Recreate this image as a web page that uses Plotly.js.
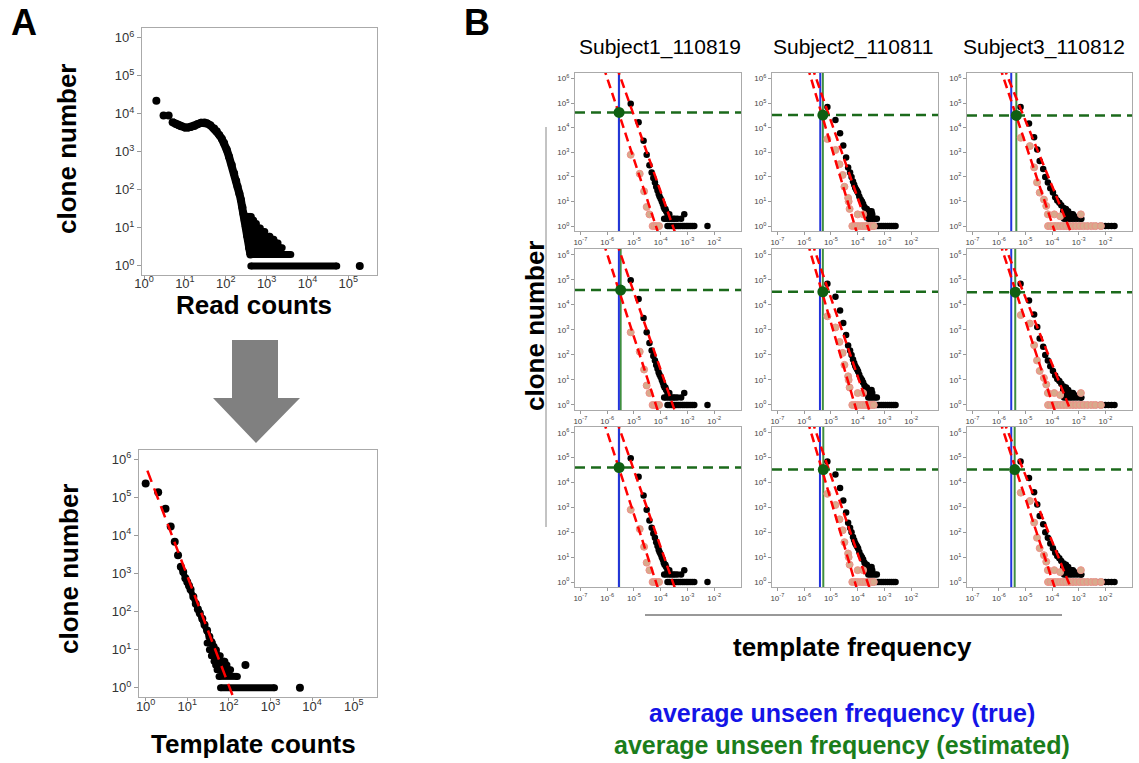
<!DOCTYPE html>
<html><head><meta charset="utf-8">
<script src="https://cdn.plot.ly/plotly-3.0.1.min.js"></script>
<style>html,body{margin:0;padding:0;background:#fff}#chart{width:1139px;height:763px}</style>
</head><body><div id="chart"></div>
<script>
// ---------- Panel A (top): read counts ----------
const readX = [2, 3, 4, 5, 6, 7, 8, 10, 12, 14, 17, 20, 25, 30, 35, 42, 52, 60, 69, 80, 91, 105, 120, 140, 160, 180, 194, 215, 234, 255, 270, 290, 309, 340, 372, 400];
const readY = [22000, 9000, 9000, 6000, 5400, 5000, 4700, 4400, 4400, 4500, 4800, 5300, 5800, 5900, 5600, 5000, 4150, 3500, 2800, 2200, 1700, 1150, 750, 450, 275, 170, 122, 80, 55, 35, 24, 16, 11, 6, 3, 2];
// dense rows of clones (count range at a given clone number)
const readRowX = [410, 52000, null, 410, 3900, null, 380, 2400, null, 360, 1900, null, 340, 1500, null, 330, 1200, null, 320, 900, null, 310, 700, null, 300, 560, null, 290, 480, null, 280, 420];
const readRowY = [1, 1, null, 2, 2, null, 3, 3, null, 4, 4, null, 5, 5, null, 6, 6, null, 8, 8, null, 10, 10, null, 13, 13, null, 16, 16, null, 20, 20];
const readOutX = [190000];
const readOutY = [1];

// ---------- Panel A (bottom): template counts ----------
const tmplX = [1, 2, 3, 4, 5, 6, 7, 8, 9, 10, 11, 12, 14, 16, 18, 20, 23, 26, 30, 34, 38, 43, 48, 55, 62, 70];
const tmplY = [230000, 135000, 50000, 17000, 6800, 3000, 1500, 1100, 750, 600, 480, 380, 245, 160, 115, 90, 65, 45, 32, 22, 16, 12, 9, 6, 4, 3];
const tmplRowX = [63, 1250, null, 58, 160, null, 52, 110, null, 48, 90, null, 44, 80, null, 38, 62, null, 34, 50, null, 30, 40];
const tmplRowY = [1, 1, null, 2, 2, null, 3, 3, null, 4, 4, null, 5, 5, null, 7, 7, null, 10, 10, null, 15, 15];
const tmplOutX = [250, 5100];
const tmplOutY = [4, 1];
const tmplFitX = [1.1, 125];
const tmplFitY = [500000, 0.6];

// ---------- Panel B ----------
const subjects = ["Subject1_110819", "Subject2_110811", "Subject3_110812"];
const blackX = [
  [7.6e-6, 1.5e-5, 2.3e-5, 3.0e-5, 3.8e-5, 4.6e-5, 5.3e-5, 6.1e-5, 6.8e-5, 7.6e-5, 8.4e-5, 9.1e-5, 1.0e-4, 1.1e-4, 1.2e-4, 1.3e-4, 1.4e-4, 1.5e-4, 1.6e-4, 1.8e-4, 2.1e-4, 7.6e-4,
   1.35e-4, 1.6e-4, 2.0e-4, 2.4e-4, 2.9e-4, 3.4e-4, 4.2e-4, 5.8e-4,
   1.8e-4, 2.1e-4, 2.5e-4, 2.9e-4, 3.4e-4, 4.0e-4, 4.7e-4, 5.5e-4, 6.5e-4, 7.6e-4, 9.0e-4, 1.05e-3, 1.25e-3, 1.5e-3, 1.8e-3, 5.6e-3],
  [7.4e-6, 1.48e-5, 2.2e-5, 2.9e-5, 3.7e-5, 4.4e-5, 5.2e-5, 5.9e-5, 6.7e-5, 7.4e-5, 8.1e-5, 8.9e-5, 9.6e-5, 1.04e-4, 1.15e-4, 1.3e-4, 1.45e-4, 1.6e-4, 1.8e-4, 2.0e-4, 2.2e-4, 2.5e-4, 2.8e-4, 3.1e-4, 3.5e-4, 2.3e-4, 2.6e-4, 3.3e-4,
   2.5e-4, 3.0e-4, 3.6e-4, 4.4e-4, 5.2e-4,
   2.5e-4, 3.0e-4, 3.6e-4, 4.3e-4, 5.2e-4, 6.2e-4, 7.5e-4, 9.0e-4, 1.08e-3, 1.3e-3, 1.55e-3, 1.85e-3, 2.2e-3, 2.6e-3],
  [6.5e-6, 1.35e-5, 2.1e-5, 2.75e-5, 3.4e-5, 4.6e-5, 5.5e-5, 6.9e-5, 8.5e-5, 1.07e-4, 1.3e-4, 1.55e-4, 1.86e-4, 2.2e-4, 2.7e-4, 3.3e-4, 4.0e-4, 5.0e-4, 6.0e-4, 6.8e-4, 1.2e-3,
   2.8e-4, 3.5e-4, 4.5e-4, 5.5e-4, 7.0e-4, 9.0e-4, 1.25e-3, 3.0e-4, 3.8e-4, 4.4e-4, 5.2e-4, 2.6e-4, 3.2e-4,
   1.3e-4, 1.7e-4, 2.2e-4, 2.8e-4, 3.6e-4, 4.6e-4, 6.0e-4, 7.7e-4, 1.0e-3, 1.3e-3, 1.7e-3, 2.2e-3, 2.8e-3, 3.6e-3, 4.6e-3, 6.0e-3, 7.7e-3, 1.0e-2, 1.3e-2, 1.7e-2, 2.2e-2]
];
const blackY = [
  [95000, 17000, 3000, 800, 300, 150, 90, 60, 40, 28, 20, 16, 13, 10, 8, 6, 5, 5, 4, 3, 3, 3,
   2, 2, 2, 2, 2, 2, 2, 2,
   1, 1, 1, 1, 1, 1, 1, 1, 1, 1, 1, 1, 1, 1, 1, 1],
  [70000, 21000, 6000, 1900, 620, 240, 150, 100, 65, 48, 36, 30, 26, 22, 16, 12, 10, 8, 6, 5, 5, 4, 4, 3, 3, 3, 3, 4,
   2, 2, 2, 2, 2,
   1, 1, 1, 1, 1, 1, 1, 1, 1, 1, 1, 1, 1, 1],
  [70000, 15000, 4100, 1300, 450, 210, 100, 60, 35, 23, 15, 11, 9, 7, 5.5, 5, 4, 3, 3, 2.5, 2,
   2, 2, 2, 2, 2, 2, 2, 3, 3, 3, 3, 4, 4,
   1, 1, 1, 1, 1, 1, 1, 1, 1, 1, 1, 1, 1, 1, 1, 1, 1, 1, 1, 1, 1]
];
const tanX = [
  [7.6e-6, 1.65e-5, 2.4e-5, 3.0e-5, 3.8e-5, 5.0e-5, 6.0e-5, 7.0e-5, 8.7e-5],
  [7.4e-6, 1.48e-5, 2.1e-5, 2.75e-5, 3.2e-5, 4.4e-5, 4.6e-5, 5.0e-5, 1.0e-4, 1.6e-4,
   6.3e-5, 8.0e-5, 1.0e-4, 1.3e-4, 1.6e-4, 2.0e-4, 2.5e-4, 3.2e-4, 4.0e-4],
  [6.6e-6, 1.45e-5, 2.1e-5, 2.7e-5, 3.4e-5, 4.9e-5, 6.0e-5, 6.9e-5, 1.2e-4, 1.2e-3, 2.0e-4,
   7.0e-5, 9.0e-5, 1.15e-4, 1.5e-4, 2.0e-4, 2.6e-4, 3.4e-4, 4.5e-4, 6.0e-4, 8.0e-4, 1.1e-3, 1.5e-3, 2.1e-3, 3.0e-3, 4.2e-3, 6.8e-3]
];
const tanY = [
  [800, 135, 26, 6, 3, 1, 1, 1, 1],
  [3500, 1250, 330, 120, 40, 14, 10, 5, 3, 3,
   1, 1, 1, 1, 1, 1, 1, 1, 1],
  [3900, 1800, 245, 60, 23, 12, 6.6, 3, 3, 3, 2.5,
   1, 1, 1, 1, 1, 1, 1, 1, 1, 1, 1, 1, 1, 1, 1, 1]
];
const fitLeftX = [[7.2e-7, 8.2e-5], [1.33e-6, 9.5e-5], [1.07e-6, 1.32e-4]];
const fitRightX = [[2.24e-6, 3.55e-4], [1.95e-6, 2.9e-4], [1.46e-6, 5.3e-4]];
const fitY = [3.2e6, 0.5];
const trueFreq = [[2.75e-6, 4.0e-6, 2.9e-6], [2.75e-6, 3.9e-6, 2.9e-6], [2.75e-6, 3.9e-6, 2.9e-6]];
const estFreq = [[2.8e-6, 5.0e-6, 4.5e-6], [3.2e-6, 5.0e-6, 4.1e-6], [2.8e-6, 5.2e-6, 3.9e-6]];
const estClones = [[4.2e4, 3.3e4, 3.2e4], [3.9e4, 3.3e4, 3.2e4], [4.0e4, 3.3e4, 3.3e4]];

const tickA_x = [1, 10, 100, 1e3, 1e4, 1e5];
const tickA_xText = ["10<sup>0</sup>", "10<sup>1</sup>", "10<sup>2</sup>", "10<sup>3</sup>", "10<sup>4</sup>", "10<sup>5</sup>"];
const tickY = [1, 10, 100, 1e3, 1e4, 1e5, 1e6];
const tickYText = ["10<sup>0</sup>", "10<sup>1</sup>", "10<sup>2</sup>", "10<sup>3</sup>", "10<sup>4</sup>", "10<sup>5</sup>", "10<sup>6</sup>"];
const tickB_x = [1e-7, 1e-6, 1e-5, 1e-4, 1e-3, 1e-2];
const tickB_xText = ["10<sup>-7</sup>", "10<sup>-6</sup>", "10<sup>-5</sup>", "10<sup>-4</sup>", "10<sup>-3</sup>", "10<sup>-2</sup>"];

// ---------- layout helpers ----------
const W = 1139, H = 763;
const PX = p => p / W, PY = p => 1 - p / H;
const FONT = "Liberation Sans, Arial, Helvetica, sans-serif";

function axis(domain, range, tv, tt, size, anchor, tl) {
  return {type: 'log', domain: domain, range: range, anchor: anchor, tickvals: tv, ticktext: tt,
    ticks: 'outside', ticklen: tl, tickwidth: 1, tickcolor: '#999', showline: true, mirror: true,
    linecolor: '#aaa', linewidth: 1, showgrid: false, zeroline: false,
    tickfont: {family: FONT, size: size, color: '#333'}, fixedrange: true};
}

const traces = [];
const layout = {width: W, height: H, margin: {l: 0, r: 0, t: 0, b: 0}, showlegend: false,
  paper_bgcolor: '#fff', plot_bgcolor: '#fff', font: {family: FONT}, annotations: [], shapes: []};

// Panel A top
layout.xaxis = axis([PX(142), PX(377)], [-0.05, 5.7], tickA_x, tickA_xText, 13, 'y', 3);
layout.yaxis = axis([PY(275), PY(28)], [-0.24, 6.26], tickY, tickYText, 13, 'x', 4);
layout.xaxis.ticklabelstandoff = -7;
// Panel A bottom
layout.xaxis2 = axis([PX(139), PX(377)], [-0.16, 5.56], tickA_x, tickA_xText, 13, 'y2', 3);
layout.yaxis2 = axis([PY(697), PY(450)], [-0.24, 6.24], tickY, tickYText, 13, 'x2', 4);
layout.xaxis2.ticklabelstandoff = -6;

const dot = (s) => ({color: '#000', size: s});
traces.push({x: readRowX, y: readRowY, xaxis: 'x', yaxis: 'y', mode: 'lines+markers', connectgaps: false,
  line: {color: '#000', width: 7}, marker: dot(7), hoverinfo: 'skip'});
traces.push({x: readX.slice(3), y: readY.slice(3), xaxis: 'x', yaxis: 'y', mode: 'lines', line: {color: '#000', width: 8}, hoverinfo: 'skip'});
traces.push({x: readX, y: readY, xaxis: 'x', yaxis: 'y', mode: 'markers', marker: dot(8)});
traces.push({x: readOutX, y: readOutY, xaxis: 'x', yaxis: 'y', mode: 'markers', marker: dot(8)});

traces.push({x: tmplRowX, y: tmplRowY, xaxis: 'x2', yaxis: 'y2', mode: 'lines+markers', connectgaps: false,
  line: {color: '#000', width: 7}, marker: dot(7), hoverinfo: 'skip'});
traces.push({x: tmplX.slice(6), y: tmplY.slice(6), xaxis: 'x2', yaxis: 'y2', mode: 'lines', line: {color: '#000', width: 6}, hoverinfo: 'skip'});
traces.push({x: tmplX, y: tmplY, xaxis: 'x2', yaxis: 'y2', mode: 'markers', marker: dot(8)});
traces.push({x: tmplOutX, y: tmplOutY, xaxis: 'x2', yaxis: 'y2', mode: 'markers', marker: dot(8)});
traces.push({x: tmplFitX, y: tmplFitY, xaxis: 'x2', yaxis: 'y2', mode: 'lines', line: {color: '#ff0000', width: 2.5, dash: '12px,7px'}});

// Panel B grid
const colL = [575, 772, 967], colR = [741, 938, 1132];
const rowT = [73, 249, 427], rowB = [231, 410, 587];
for (let r = 0; r < 3; r++) {
  for (let c = 0; c < 3; c++) {
    const n = 3 + r * 3 + c;
    const xa = 'x' + n, ya = 'y' + n;
    layout['xaxis' + n] = axis([PX(colL[c]), PX(colR[c])], [-7.2, -1.0], tickB_x, tickB_xText, 8, ya, 3);
    layout['yaxis' + n] = axis([PY(rowB[r]), PY(rowT[r])], [-0.2, 6.23], tickY, tickYText, 8, xa, 3);
    layout['xaxis' + n].tickfont.color = '#444';
    layout['yaxis' + n].tickfont.color = '#444';
    traces.push({x: blackX[c], y: blackY[c], xaxis: xa, yaxis: ya, mode: 'markers', marker: {color: '#000', size: 6.5}});
    traces.push({x: tanX[c], y: tanY[c], xaxis: xa, yaxis: ya, mode: 'markers',
      marker: {color: '#D8AA8C', size: 7, line: {color: '#EE9088', width: 1}}});
    traces.push({x: fitLeftX[c], y: fitY, xaxis: xa, yaxis: ya, mode: 'lines', line: {color: '#ff0000', width: 2.5, dash: '9px,5px'}});
    traces.push({x: fitRightX[c], y: fitY, xaxis: xa, yaxis: ya, mode: 'lines', line: {color: '#ff0000', width: 2.5, dash: '9px,5px'}});
    traces.push({x: [estFreq[r][c]], y: [estClones[r][c]], xaxis: xa, yaxis: ya, mode: 'markers', marker: {color: '#0f5f12', size: 11}});
    layout.shapes.push({type: 'line', layer: 'below', xref: xa, yref: ya + ' domain', x0: estFreq[r][c], x1: estFreq[r][c], y0: 0, y1: 1,
      line: {color: '#3f8f3f', width: 2}});
    layout.shapes.push({type: 'line', layer: 'below', xref: xa, yref: ya + ' domain', x0: trueFreq[r][c], x1: trueFreq[r][c], y0: 0, y1: 1,
      line: {color: '#2233dd', width: 2}});
    layout.shapes.push({type: 'line', layer: 'below', xref: xa + ' domain', yref: ya, x0: 0, x1: 1, y0: estClones[r][c], y1: estClones[r][c],
      line: {color: '#1b6a1b', width: 2.5, dash: '10px,6px'}});
  }
}

// Arrow
const arrowPts = [[232, 340], [278, 340], [278, 398], [300, 398], [256, 443], [213, 398], [232, 398]];
layout.shapes.push({type: 'path', xref: 'paper', yref: 'paper', fillcolor: '#808080', line: {width: 0},
  path: 'M' + arrowPts.map(p => PX(p[0]) + ',' + PY(p[1])).join(' L') + ' Z'});
// decorative lines in B
layout.shapes.push({type: 'line', xref: 'paper', yref: 'paper', x0: PX(546), x1: PX(546), y0: PY(127), y1: PY(527), line: {color: '#888', width: 1}});
layout.shapes.push({type: 'line', xref: 'paper', yref: 'paper', x0: PX(645), x1: PX(1062), y0: PY(615), y1: PY(615), line: {color: '#333', width: 1}});

function ann(text, x, y, size, opts) {
  layout.annotations.push(Object.assign({text: text, x: PX(x), y: PY(y), xref: 'paper', yref: 'paper', showarrow: false,
    xanchor: 'center', yanchor: 'middle', font: {family: FONT, size: size, color: '#000'}}, opts || {}));
}
ann('<b>A</b>', 24, 23, 36);
ann('<b>B</b>', 477, 23, 36);
ann('<b>clone number</b>', 67, 149, 26, {textangle: -90});
ann('<b>Read counts</b>', 254, 305, 26);
ann('<b>clone number</b>', 69, 569, 26, {textangle: -90});
ann('<b>Template counts</b>', 254, 744, 26);
ann(subjects[0], 660, 47, 21);
ann(subjects[1], 853, 47, 21);
ann(subjects[2], 1044, 47, 21);
ann('<b>clone number</b>', 535, 326, 26, {textangle: -90});
ann('<b>template frequency</b>', 852, 647, 26);
ann('<b>average unseen frequency (true)</b>', 842, 713, 25, {font: {family: FONT, size: 25, color: '#1414e6'}});
ann('<b>average unseen frequency (estimated)</b>', 842, 745, 25, {font: {family: FONT, size: 25, color: '#1b7d1b'}});

Plotly.newPlot('chart', traces, layout, {staticPlot: true, displayModeBar: false});
</script></body></html>
